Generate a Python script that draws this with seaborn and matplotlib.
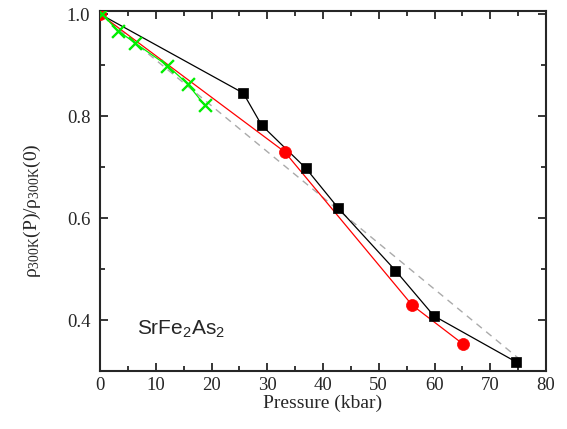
import matplotlib
matplotlib.use("Agg")
import matplotlib.pyplot as plt
import seaborn as sns
import numpy as np

# Data
black_p = [0.0, 25.7, 29.0, 36.9, 42.7, 53.0, 59.9, 74.6]
black_r = [1.0, 0.845, 0.782, 0.698, 0.620, 0.497, 0.408, 0.318]

red_p = [0.0, 33.1, 56.0, 65.1]
red_r = [1.0, 0.730, 0.429, 0.353]

green_p = [0.3, 3.3, 6.3, 12.1, 15.7, 18.8]
green_r = [1.0, 0.967, 0.943, 0.899, 0.863, 0.821]

grey_p = [0.0, 75.5]
grey_r = [1.0, 0.321]

x_ticks = [0, 10, 20, 30, 40, 50, 60, 70, 80]
y_ticks = [0.4, 0.6, 0.8, 1.0]
sample_label = r"$\mathregular{SrFe_2As_2}$"

sns.set_style("ticks")
plt.rcParams["font.family"] = ["Liberation Serif", "DejaVu Serif"]
plt.rcParams["xtick.direction"] = "in"
plt.rcParams["ytick.direction"] = "in"

fig = plt.figure(figsize=(5.67, 4.29), dpi=100)
ax = fig.add_axes([100 / 567, 1 - 371 / 429, 446 / 567, 360 / 429])

# lines
sns.lineplot(x=grey_p, y=grey_r, ax=ax, color="#aaaaaa", lw=1.0, sort=False,
             estimator=None, zorder=1)
ax.lines[-1].set_dashes([5, 4])
sns.lineplot(x=black_p, y=black_r, ax=ax, color="black", lw=0.9, sort=False,
             estimator=None, zorder=2)
sns.lineplot(x=red_p, y=red_r, ax=ax, color="#ff0000", lw=0.9, sort=False,
             estimator=None, zorder=3)
sns.lineplot(x=green_p, y=green_r, ax=ax, color="#00ee00", lw=0.9, sort=False,
             estimator=None, zorder=4)

# markers
sns.scatterplot(x=black_p[1:], y=black_r[1:], ax=ax, color="black", marker="s",
                s=60, edgecolor="black", linewidth=0.5, zorder=5)
sns.scatterplot(x=red_p, y=red_r, ax=ax, color="#ff0000", marker="o",
                s=75, edgecolor="#ff0000", linewidth=0.5, zorder=6)
sns.scatterplot(x=green_p, y=green_r, ax=ax, color="#00ee00", marker="x",
                s=85, linewidth=1.7, zorder=7)

ax.set_xlim(0, 80)
ax.set_ylim(0.305, 1.006)
ax.set_xticks(x_ticks)
ax.set_yticks(y_ticks)
ax.set_xticklabels([str(t) for t in x_ticks])
ax.set_yticklabels([f"{t:.1f}" for t in y_ticks])
ax.set_xticks(np.arange(5, 80, 10), minor=True)
ax.set_yticks([0.3, 0.5, 0.7, 0.9], minor=True)

ax.tick_params(which="both", direction="in", top=True, right=True, width=1.3)
ax.tick_params(which="major", length=6)
ax.tick_params(which="minor", length=3.5)
ax.tick_params(axis="x", which="major", pad=4, labelsize=13.5)
ax.tick_params(axis="y", which="major", pad=7, labelsize=13.5)

for s in ax.spines.values():
    s.set_visible(True)
    s.set_linewidth(1.5)

ax.set_xlabel("Pressure (kbar)", fontsize=14, labelpad=1)
ax.set_ylabel(r"$\mathregular{ρ_{300K}(P)/ρ_{300K}(0)}$", fontsize=14)
ax.yaxis.set_label_coords(-0.128, 0.444)

ax.text(37 / 446, (371 - 335) / 360, sample_label, transform=ax.transAxes,
        fontsize=15, family=["Liberation Sans", "DejaVu Sans"], ha="left", va="baseline")

if ax.get_legend() is not None:
    ax.get_legend().remove()

fig.savefig("out.png", dpi=100)
